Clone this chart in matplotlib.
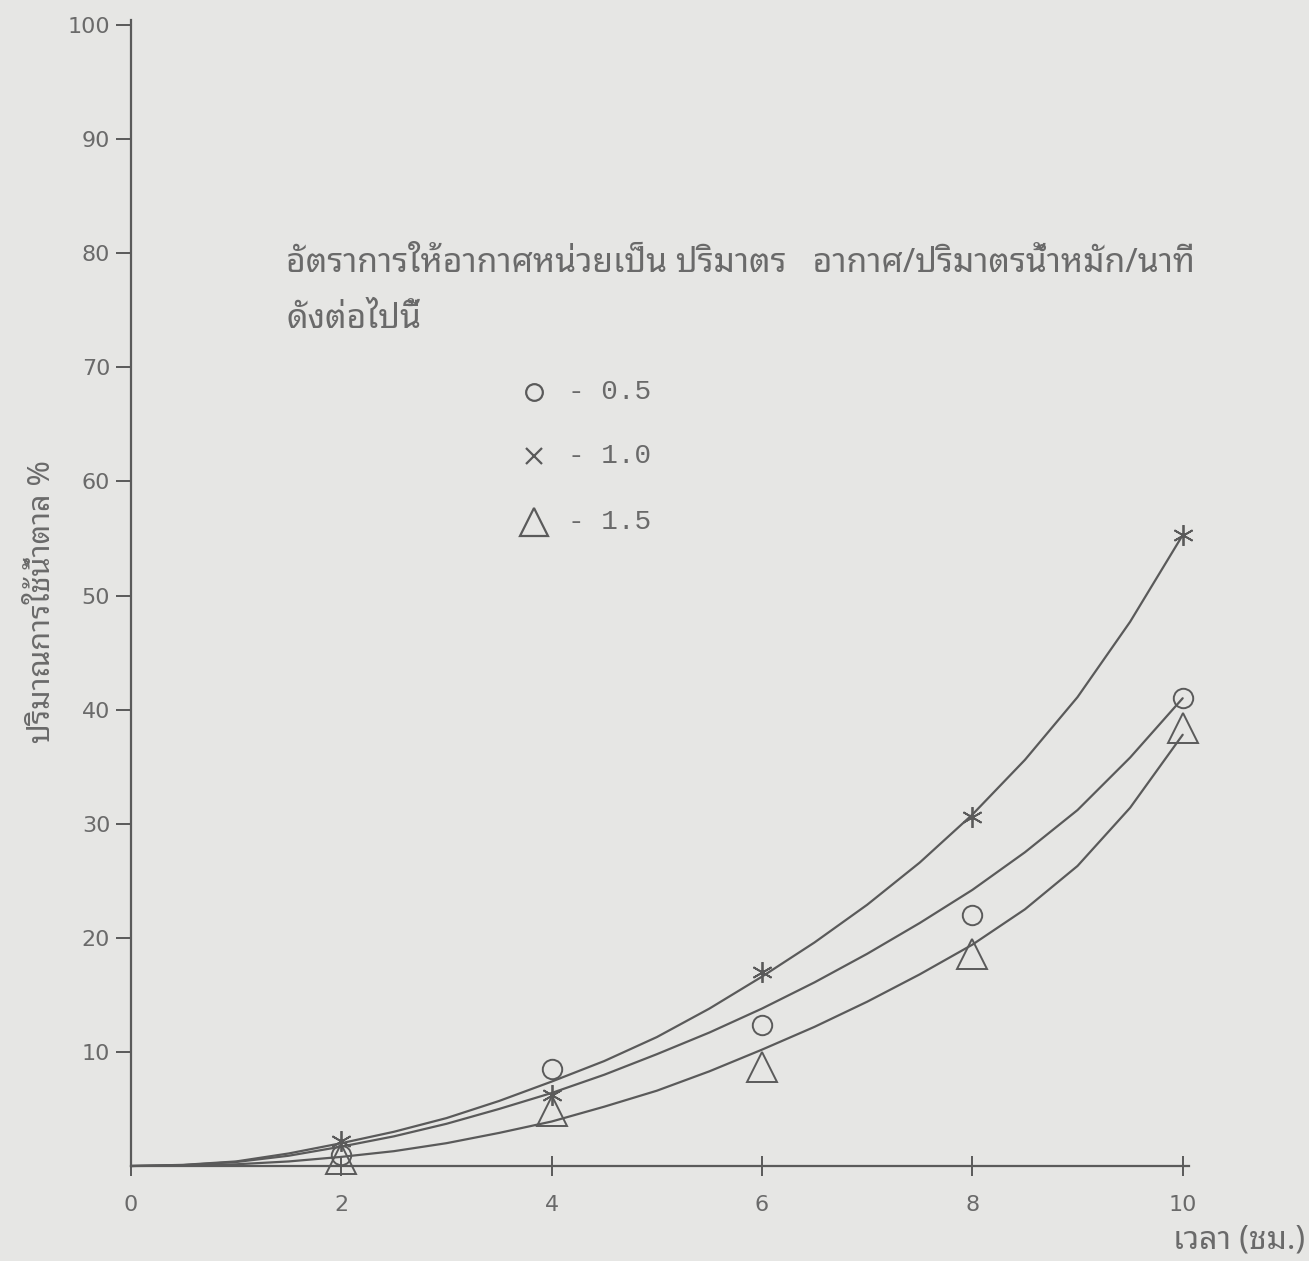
import matplotlib
matplotlib.use("Agg")
import matplotlib.pyplot as plt
from matplotlib import font_manager
from matplotlib.ft2font import FT2Font

# ---------------- data ----------------
hours = [0, 2, 4, 6, 8, 10]
rate_labels = ["0.5", "1.0", "1.5"]
obs_05 = [None, 1.0, 8.5, 12.4, 22.0, 41.0]
obs_10 = [None, 2.2, 6.2, 17.0, 30.6, 55.3]
obs_15 = [None, 0.6, 4.8, 8.7, 18.6, 38.4]

curve_x = [0, 0.5, 1, 1.5, 2, 2.5, 3, 3.5, 4, 4.5, 5,
           5.5, 6, 6.5, 7, 7.5, 8, 8.5, 9, 9.5, 10]
curve_10 = [0, 0.1, 0.4, 1.1, 2.0, 3.0, 4.2, 5.7, 7.4, 9.2, 11.3,
            13.8, 16.6, 19.6, 22.9, 26.6, 30.8, 35.6, 41.1, 47.7, 55.3]
curve_05 = [0, 0.08, 0.35, 0.9, 1.7, 2.6, 3.7, 5.0, 6.4, 8.0, 9.8,
            11.7, 13.8, 16.1, 18.6, 21.3, 24.2, 27.5, 31.2, 35.8, 41.0]
curve_15 = [0, 0.03, 0.15, 0.4, 0.8, 1.3, 2.0, 2.9, 3.9, 5.2, 6.6,
            8.3, 10.2, 12.2, 14.4, 16.8, 19.4, 22.5, 26.3, 31.4, 37.8]

x_ticks = [0, 2, 4, 6, 8, 10]
y_ticks = [10, 20, 30, 40, 50, 60, 70, 80, 90, 100]

title_line1 = "อัตราการให้อากาศหน่วยเป็น ปริมาตร   อากาศ/ปริมาตรน้ำหมัก/นาที"
title_line2 = "ดังต่อไปนี้"
ylabel = "ปริมาณการใช้น้ำตาล %"
xlabel = "เวลา (ชม.)"

# ---------------- fonts ----------------
def find_thai_font():
    preferred = ["Tlwg Typist", "Tlwg Typo", "TlwgTypist", "TlwgTypo",
                 "Tlwg Mono", "Noto Sans Thai Looped", "Loma", "Garuda",
                 "Norasi", "Kinnari", "Waree", "Sawasdee", "Umpush",
                 "Noto Serif Thai", "Noto Sans Thai", "Purisa"]
    found = {}
    for f in font_manager.fontManager.ttflist:
        try:
            cm = FT2Font(f.fname).get_charmap()
        except Exception:
            continue
        if 0x0E01 in cm and 0x0E32 in cm:
            found.setdefault(f.name, f.fname)
    for p in preferred:
        if p in found:
            return p
    if found:
        return sorted(found)[0]
    return None

thai = find_thai_font()
names = {f.name for f in font_manager.fontManager.ttflist}
digit_font = "Liberation Sans Narrow" if "Liberation Sans Narrow" in names else "DejaVu Sans"
thai_family = [thai, "DejaVu Sans"] if thai else ["DejaVu Sans"]

INK = "#5a5a5a"
TXT = "#6a6a6a"
BG = "#e6e6e4"

W, H = 1309, 1261
fig = plt.figure(figsize=(W / 100, H / 100), dpi=100, facecolor=BG)

def fx(px):
    return px / W

def fy(py):
    return 1 - py / H

ax = fig.add_axes([fx(131), fy(1166), (1189 - 131) / W, (1166 - 20) / H])
ax.set_facecolor(BG)
ax.set_xlim(0, 10.06)
ax.set_ylim(0, 100.45)
for s in ["top", "right"]:
    ax.spines[s].set_visible(False)
for s in ["left", "bottom"]:
    ax.spines[s].set_color(INK)
    ax.spines[s].set_linewidth(1.6)

ax.set_xticks(x_ticks)
ax.set_xticklabels([str(v) for v in x_ticks])
ax.set_yticks(y_ticks)
ax.set_yticklabels([str(v) for v in y_ticks])
ax.tick_params(axis="y", direction="out", length=11, width=1.4, color=INK,
               pad=4, labelsize=16, labelcolor=TXT)
ax.tick_params(axis="x", direction="inout", length=14, width=1.4, color=INK,
               pad=14, labelsize=16, labelcolor=TXT)
for lab in ax.get_xticklabels() + ax.get_yticklabels():
    lab.set_fontfamily(digit_font)

# curves
for cy in (curve_10, curve_05, curve_15):
    ax.plot(curve_x, cy, color=INK, lw=1.6, solid_capstyle="round",
            solid_joinstyle="round", clip_on=False, zorder=3)

# observed points
def pts(vals):
    xs = [h for h, v in zip(hours, vals) if v is not None]
    ys = [v for v in vals if v is not None]
    return xs, ys

x05, y05 = pts(obs_05)
x10, y10 = pts(obs_10)
x15, y15 = pts(obs_15)
ax.plot(x05, y05, "o", ms=14, mfc="none", mec=INK, mew=1.4, clip_on=False, zorder=4)
ax.plot(x10, y10, marker=(6, 2, 0), ls="none", ms=15, mec=INK, mew=1.3,
        clip_on=False, zorder=4)
ax.plot(x15, y15, "^", ms=21, mfc="none", mec=INK, mew=1.4, clip_on=False, zorder=4)

# legend (drawn as text + markers)
leg_y = [392, 456, 522]
leg_markers = [dict(marker="o", ms=12), dict(marker="x", ms=12),
               dict(marker="^", ms=20)]
for py, lab, mk in zip(leg_y, rate_labels, leg_markers):
    fig.add_artist(plt.Line2D([fx(534)], [fy(py)], ls="none", mfc="none",
                              mec=INK, mew=1.6, transform=fig.transFigure, **mk))
    fig.text(fx(568), fy(py), "- " + lab, fontsize=20, color=TXT,
             family=["Liberation Mono", "DejaVu Sans Mono"], va="center", ha="left")

# annotation text
t1 = fig.text(fx(286), fy(263), title_line1, fontsize=20, color=TXT,
              family=thai_family, va="center", ha="left")
t2 = fig.text(fx(286), fy(320), title_line2, fontsize=20, color=TXT,
              family=thai_family, va="center", ha="left")

# axis labels
yl = fig.text(fx(42), fy(602), ylabel, fontsize=22, color=TXT, rotation=90,
              family=thai_family, va="center", ha="center")
xl = fig.text(fx(1305), fy(1240), xlabel, fontsize=23, color=TXT,
              family=thai_family, va="center", ha="right")

# scale the title so its width matches the reference
renderer = fig.canvas.get_renderer()
bb = t1.get_window_extent(renderer=renderer)
fs1 = min(t1.get_fontsize() * 908 / bb.width, 28)
t1.set_fontsize(fs1)
t2.set_fontsize(fs1)

fig.savefig("out.png", dpi=100, facecolor=BG)
